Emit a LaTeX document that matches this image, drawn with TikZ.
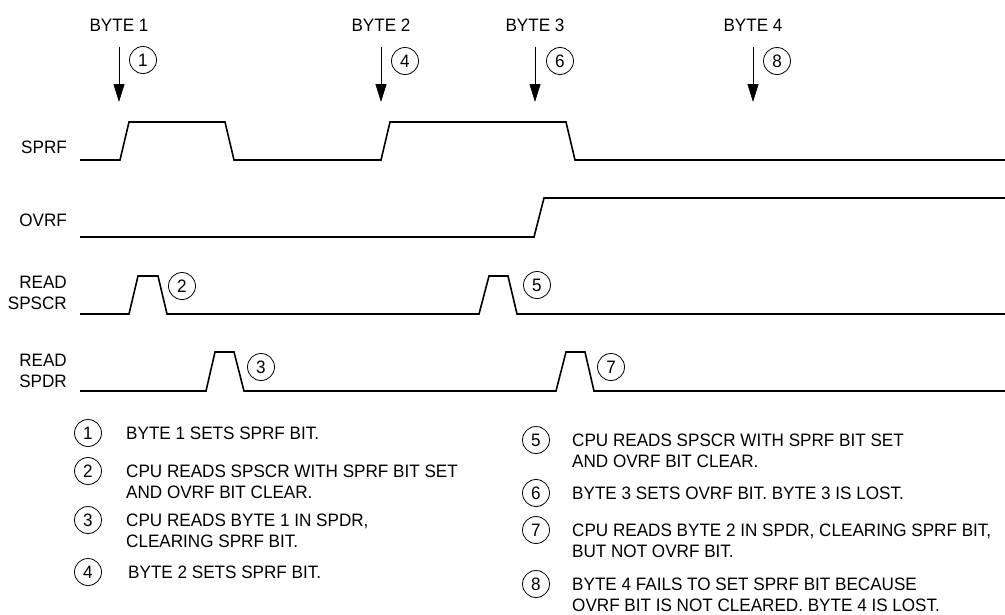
\documentclass[tikz,border=0pt]{standalone}
\usepackage{fontspec}
\setmainfont[FakeStretch=0.95]{Liberation Sans}
\usetikzlibrary{arrows.meta, positioning}
\tikzset{
  signal/.style={line width=1.6pt, line join=miter},
  bytearrow/.style={draw, line width=0.8pt, -{Triangle[length=18pt, width=11pt]}, shorten <=12pt},
  num/.style={draw, circle, line width=0.8pt, minimum size=27pt, inner sep=0pt},
  siglabel/.style={anchor=base east, align=right, inner sep=0pt},
  note/.style={anchor=base west, align=left, inner sep=0pt},
}

\begin{document}
\begin{tikzpicture}[x=1pt, y=-1pt, font=\fontsize{18}{21}\selectfont]
  \useasboundingbox (0,0) rectangle (1005,614);

  % bytes arriving
  \node (b1) at (119,25) {BYTE 1};
  \node (b2) at (381,25) {BYTE 2};
  \node (b3) at (535,25) {BYTE 3};
  \node (b4) at (753,25) {BYTE 4};
  \coordinate (a1) at (119,102);
  \coordinate (a2) at (381,102);
  \coordinate (a3) at (535,102);
  \coordinate (a4) at (753,102);
  \draw[bytearrow] (b1) -- (a1);
  \draw[bytearrow] (b2) -- (a2);
  \draw[bytearrow] (b3) -- (a3);
  \draw[bytearrow] (b4) -- (a4);
  \node[num] (c1) at (143,60) {1};
  \node[num] (c4) at (405,61) {4};
  \node[num] (c6) at (560,61) {6};
  \node[num] (c8) at (777,61) {8};

  % signal names (base = last line)
  \node[siglabel] (sprf)  at (67,153.5) {SPRF};
  \node[siglabel] (ovrf)  at (67,226.5) {OVRF};
  \node[siglabel] (rscr)  at (67,309.5) {READ\\SPSCR};
  \node[siglabel] (rdr)   at (67,387.5) {READ\\SPDR};

  % waveforms
  \draw[signal] (80,160) -- (120,160) -- (129,122) -- (225,122) -- (234,160)
    -- (381,160) -- (390,122) -- (566,122) -- (575,160) -- (1005,160);
  \draw[signal] (80,237) -- (534,237) -- (544,198) -- (1005,198);
  \draw[signal] (80,314) -- (129,314) -- (138,276) -- (158,276) -- (167,314)
    -- (479,314) -- (489,276) -- (508,276) -- (517,314) -- (1005,314);
  \draw[signal] (80,391) -- (206,391) -- (215,352) -- (234,352) -- (244,391)
    -- (556,391) -- (566,352) -- (585,352) -- (594,391) -- (1005,391);

  \node[num] (c2) at (182,286) {2};
  \node[num] (c5) at (537,285) {5};
  \node[num] (c3) at (261,367) {3};
  \node[num] (c7) at (611,367) {7};

  % notes, left column
  \node[num] (n1) at (88,433) {1};
  \node[num] (n2) at (88,471) {2};
  \node[num] (n3) at (88,520) {3};
  \node[num] (n4) at (88,572) {4};
  \node[note] (t1) at (126,439.5) {BYTE 1 SETS SPRF BIT.};
  \node[note] (t2) at (126,498.5) {CPU READS SPSCR WITH SPRF BIT SET\\AND OVRF BIT CLEAR.};
  \node[note] (t3) at (126,547.5) {CPU READS BYTE 1 IN SPDR,\\CLEARING SPRF BIT.};
  \node[note] (t4) at (128,578.5) {BYTE 2 SETS SPRF BIT.};

  % notes, right column
  \node[num] (n5) at (536,440) {5};
  \node[num] (n6) at (536,493) {6};
  \node[num] (n7) at (536,530) {7};
  \node[num] (n8) at (536,584) {8};
  \node[note] (t5) at (572,467.5) {CPU READS SPSCR WITH SPRF BIT SET\\AND OVRF BIT CLEAR.};
  \node[note] (t6) at (572,499.5) {BYTE 3 SETS OVRF BIT. BYTE 3 IS LOST.};
  \node[note] (t7) at (572,557.5) {CPU READS BYTE 2 IN SPDR, CLEARING SPRF BIT,\\BUT NOT OVRF BIT.};
  \node[note] (t8) at (572,611) {BYTE 4 FAILS TO SET SPRF BIT BECAUSE\\OVRF BIT IS NOT CLEARED. BYTE 4 IS LOST.};
\end{tikzpicture}
\end{document}
